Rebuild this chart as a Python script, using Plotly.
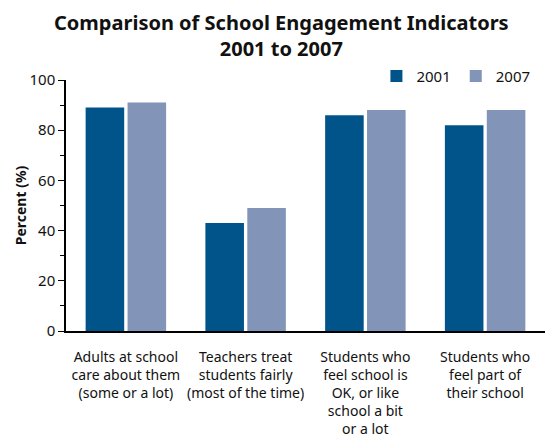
import plotly.graph_objects as go

categories = [
    "Adults at school<br>care about them<br>(some or a lot)",
    "Teachers treat<br>students fairly<br>(most of the time)",
    "Students who<br>feel school is<br>OK, or like<br>school a bit<br>or a lot",
    "Students who<br>feel part of<br>their school",
]
values_2001 = [89, 43, 86, 82]
values_2007 = [91, 49, 88, 88]
series_names = ["2001", "2007"]
y_ticks = [0, 20, 40, 60, 80, 100]

FONT = "Noto Sans"
fig = go.Figure()
fig.add_trace(go.Bar(x=categories, y=values_2001, name=series_names[0],
                     marker=dict(color="#00548a", line=dict(width=0))))
fig.add_trace(go.Bar(x=categories, y=values_2007, name=series_names[1],
                     marker=dict(color="#8294b8", line=dict(width=0))))

fig.add_annotation(text="<b>Comparison of School Engagement Indicators<br>2001 to 2007</b>",
                   xref="paper", yref="paper", x=0.45, y=1.29, xanchor="center", yanchor="top",
                   showarrow=False, align="center",
                   font=dict(size=20, family=FONT, color="#111111"))

# page body has an 8px margin, so the figure is sized/offset to compensate
fig.update_layout(
    width=550, height=429,
    margin=dict(l=58, r=13, t=72, b=106, autoexpand=False),
    paper_bgcolor="white", plot_bgcolor="white",
    font=dict(family=FONT, color="#111111"),
    barmode="group", bargap=0.3, bargroupgap=0.08,
    showlegend=True,
    legend=dict(orientation="h", x=0.98, xanchor="right", y=1.015, yanchor="middle",
                font=dict(size=15, family=FONT), itemwidth=30, traceorder="normal",
                tracegroupgap=0, bgcolor="rgba(0,0,0,0)"),
    xaxis=dict(showline=True, linecolor="black", linewidth=1.5, ticks="",
               automargin=False, ticklabelstandoff=12,
               tickfont=dict(size=14, family=FONT), showgrid=False),
    yaxis=dict(range=[0, 100], tickvals=y_ticks, showline=True, linecolor="black",
               automargin=False,
               linewidth=1.5, ticks="outside", ticklen=6, tickwidth=1, tickcolor="black",
               minor=dict(dtick=10, ticks="outside", ticklen=4, tickcolor="black"),
               showgrid=False, zeroline=False,
               tickfont=dict(size=15, family=FONT),
               title=dict(text="<b>Percent (%)</b>", font=dict(size=14, family=FONT), standoff=0)),
)
fig.write_html("out.html")
